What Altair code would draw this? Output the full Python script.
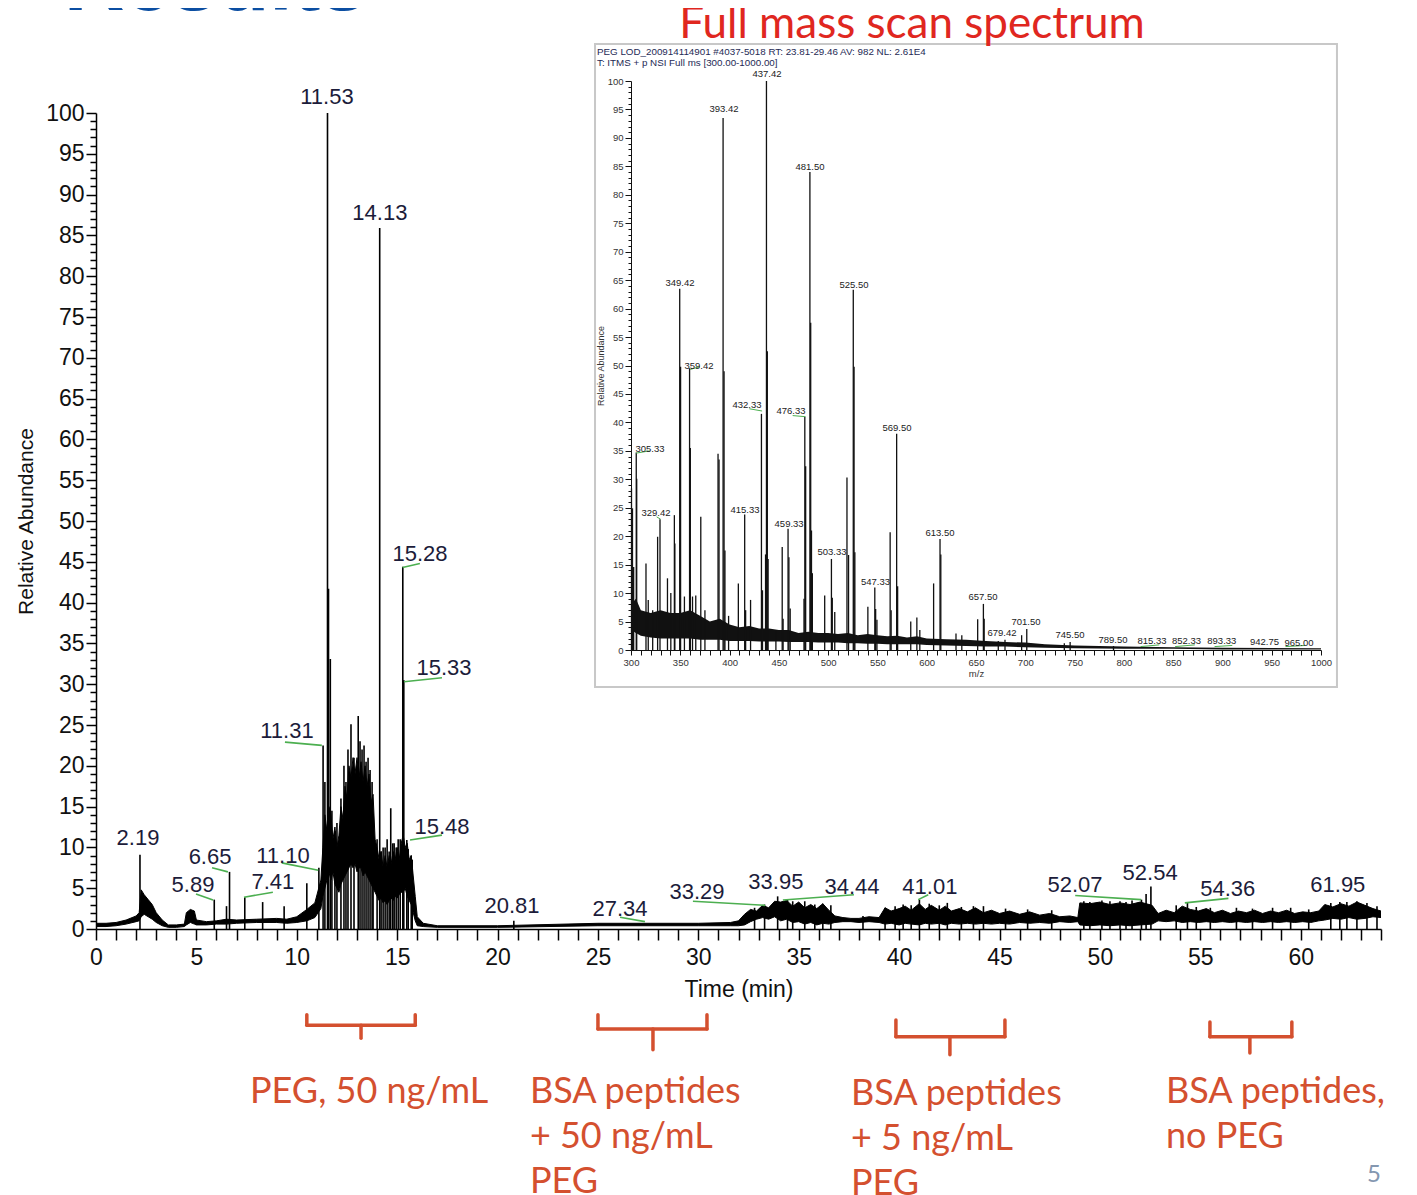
import altair as alt
import pandas as pd

# ---------------- main chromatogram: Time (min) vs Relative Abundance ----------------
# trace envelope: (time, lower edge, upper edge)
chrom_envelope = [
    (0.0, 0.3, 0.7), (0.5, 0.3, 0.7), (1.0, 0.4, 0.8), (1.5, 0.6, 1.1), (2.0, 0.9, 1.6),
    (2.15, 1.0, 2.0), (2.25, 1.5, 4.8), (2.4, 1.8, 4.2), (2.6, 1.5, 3.6), (2.8, 1.2, 3.0),
    (3.0, 0.8, 2.0), (3.3, 0.4, 1.1), (3.6, 0.2, 0.5), (4.0, 0.2, 0.5), (4.4, 0.3, 0.6),
    (4.5, 0.5, 2.0), (4.7, 0.8, 2.4), (4.9, 0.6, 2.2), (5.0, 0.5, 1.1), (5.5, 0.5, 0.9),
    (6.0, 0.6, 1.0), (6.5, 0.6, 1.2), (7.0, 0.7, 1.1), (8.0, 0.8, 1.2), (9.0, 0.8, 1.3),
    (9.5, 0.7, 1.2), (10.0, 0.8, 1.5), (10.5, 1.0, 2.4), (10.9, 1.4, 3.2),
    (11.2, 2.5, 6.0), (11.3, 4.0, 10.0), (11.4, 5.0, 14.0), (11.5, 6.0, 12.0), (11.6, 7.0, 15.0),
    (11.7, 6.0, 14.0), (11.8, 7.0, 11.0), (11.9, 5.5, 12.5), (12.0, 5.0, 10.0), (12.1, 4.5, 11.5),
    (12.2, 5.5, 15.0), (12.3, 6.0, 13.5), (12.4, 6.5, 17.5), (12.5, 7.0, 16.0), (12.6, 7.5, 20.0),
    (12.7, 8.0, 18.5), (12.8, 7.5, 21.0), (12.9, 8.0, 19.0), (13.0, 7.0, 21.0), (13.1, 7.5, 18.5),
    (13.2, 7.5, 20.5), (13.3, 6.5, 18.0), (13.4, 7.0, 20.0), (13.5, 6.5, 17.5), (13.6, 6.0, 19.0),
    (13.7, 5.5, 15.5), (13.8, 5.0, 16.5), (13.9, 4.5, 11.0), (14.0, 4.0, 10.0), (14.1, 3.5, 8.5),
    (14.2, 3.8, 9.5), (14.3, 3.2, 7.5), (14.4, 3.5, 9.0), (14.5, 3.0, 7.5), (14.6, 3.5, 9.0),
    (14.7, 3.8, 8.0), (14.8, 3.5, 9.5), (14.9, 4.0, 8.5), (15.0, 3.8, 10.0), (15.1, 4.2, 8.5),
    (15.2, 4.5, 10.5), (15.3, 4.5, 11.5), (15.4, 5.0, 10.0), (15.5, 4.0, 10.5), (15.6, 3.5, 8.5),
    (15.7, 3.0, 9.0), (15.8, 2.0, 6.5), (15.9, 1.0, 4.0), (16.0, 0.4, 1.5),
    (16.3, 0.3, 0.7), (17.0, 0.2, 0.4), (20.0, 0.2, 0.4), (25.0, 0.4, 0.7), (30.0, 0.4, 0.7),
    (31.6, 0.4, 0.8),
    (32.0, 0.4, 1.0), (32.3, 0.5, 1.8), (32.6, 0.9, 2.4), (32.9, 1.2, 2.2), (33.2, 1.4, 2.9),
    (33.5, 1.2, 2.6), (33.8, 1.5, 3.4), (34.1, 1.0, 3.3), (34.4, 1.2, 3.5), (34.7, 0.8, 2.8),
    (35.0, 0.9, 3.3), (35.3, 0.6, 2.6), (35.6, 0.8, 3.0), (35.9, 0.5, 2.5), (36.2, 0.7, 3.1),
    (36.5, 0.6, 2.3), (36.8, 0.8, 1.6), (37.2, 0.9, 1.4), (37.6, 0.9, 1.3), (38.0, 0.8, 1.3),
    (38.5, 0.9, 1.5), (39.0, 0.8, 1.4), (39.3, 0.6, 2.6), (39.6, 0.7, 2.2), (40.0, 0.5, 2.5),
    (40.3, 0.7, 2.8), (40.6, 0.6, 2.3), (41.0, 0.5, 3.1), (41.3, 0.7, 2.4), (41.6, 0.6, 2.9),
    (42.0, 0.7, 2.3), (42.3, 0.5, 2.8), (42.6, 0.7, 2.2), (43.0, 0.6, 2.5), (43.4, 0.7, 2.1),
    (43.8, 0.6, 2.6), (44.2, 0.7, 2.0), (44.6, 0.6, 2.3), (45.0, 0.7, 1.9), (45.5, 0.6, 2.2),
    (46.0, 0.8, 1.8), (46.5, 0.7, 2.1), (47.0, 0.8, 1.7), (47.5, 0.7, 1.9), (48.0, 0.9, 1.5),
    (48.5, 0.8, 1.6), (48.9, 0.9, 1.4), (49.0, 0.5, 3.2), (49.5, 0.4, 3.1), (50.0, 0.5, 3.3),
    (50.5, 0.4, 3.0), (51.0, 0.5, 3.2), (51.5, 0.4, 3.0), (52.0, 0.5, 3.3), (52.6, 0.6, 2.9),
    (52.9, 1.0, 1.9), (53.3, 0.9, 2.3), (53.7, 1.0, 2.0), (54.1, 0.8, 2.8), (54.5, 0.9, 2.4),
    (54.9, 0.8, 2.2), (55.3, 0.9, 2.5), (55.7, 0.8, 2.0), (56.1, 0.9, 2.3), (56.5, 0.8, 1.9),
    (56.9, 0.9, 2.2), (57.3, 0.8, 2.0), (57.7, 0.9, 2.3), (58.1, 0.8, 1.9), (58.5, 0.9, 2.2),
    (58.9, 0.8, 2.0), (59.3, 0.9, 2.3), (59.7, 0.8, 1.9), (60.1, 0.9, 2.1), (60.5, 0.8, 2.0),
    (60.9, 1.0, 2.2), (61.2, 1.1, 3.0), (61.6, 1.3, 2.7), (62.0, 1.2, 3.1), (62.4, 1.4, 2.8),
    (62.8, 1.2, 3.3), (63.2, 1.3, 2.9), (63.6, 1.5, 2.5), (64.0, 1.4, 2.2),
]

spike_t = [2.19, 5.89, 6.5, 6.65, 7.41, 8.3, 9.37, 10.5, 11.10, 11.31,
           11.4, 11.53, 11.58, 11.67, 11.75, 11.9, 12.0, 12.2, 12.35, 12.45,
           12.55, 12.7, 12.85, 13.06, 13.15, 13.25, 13.35, 13.45, 13.55, 13.65,
           13.75, 13.8, 14.0, 14.13, 14.2, 14.3, 14.4, 14.5, 14.6, 14.68,
           14.78, 14.85, 14.95, 15.05, 15.15, 15.28, 15.33, 15.48, 15.55, 15.7,
           15.75, 20.81, 32.8, 33.3, 33.95, 34.44, 34.7, 35.3, 35.8, 36.2,
           36.6, 38.2, 39.3, 39.8, 40.2, 40.6, 41.01, 41.5, 42.0, 42.4,
           43.1, 43.7, 44.2, 45.3, 46.4, 47.6, 49.2, 49.5, 50.1, 50.5,
           51.0, 51.3, 51.6, 52.07, 52.3, 52.54, 53.8, 54.36, 54.8, 55.5,
           56.8, 57.6, 58.6, 59.5, 60.4, 61.5, 61.95, 62.3, 62.8, 63.3,
           63.8]
spike_h = [9.1, 3.6, 2.8, 7.0, 3.9, 3.3, 2.8, 5.6, 7.5, 22.5,
           18.0, 100.0, 41.7, 33.1, 14.5, 12.0, 13.0, 16.0, 20.0, 18.0,
           22.0, 25.1, 21.0, 26.1, 23.0, 22.0, 22.5, 20.5, 21.0, 19.5,
           18.0, 13.0, 11.0, 85.9, 9.5, 10.0, 10.0, 11.0, 9.5, 14.8,
           10.5, 10.5, 10.0, 11.0, 11.0, 44.4, 30.5, 10.9, 9.8, 9.0,
           8.5, 1.0, 2.6, 3.0, 4.0, 3.6, 3.4, 3.4, 3.0, 3.1,
           2.9, 1.6, 2.6, 2.8, 3.0, 2.9, 3.6, 3.1, 2.9, 3.2,
           2.7, 2.8, 2.8, 2.5, 2.4, 2.3, 3.4, 3.3, 3.5, 3.4,
           3.4, 3.3, 3.5, 3.6, 4.3, 5.2, 2.9, 3.2, 2.7, 2.6,
           2.6, 2.5, 2.6, 2.6, 2.4, 3.2, 3.3, 3.3, 3.4, 3.2,
           2.8]

peak_labels = ["2.19", "5.89", "6.65", "7.41", "11.10", "11.31", "11.53", "14.13",
               "15.28", "15.33", "15.48", "20.81", "27.34", "33.29", "33.95", "34.44",
               "41.01", "52.07", "52.54", "54.36", "61.95"]
label_t = [2.09, 4.83, 5.68, 8.81, 9.31, 9.51, 11.50, 14.14,
           16.14, 17.33, 17.23, 20.72, 26.10, 29.93, 33.86, 37.65,
           41.53, 48.76, 52.50, 56.37, 61.85]
label_v = [11.15, 5.4, 8.8, 5.8, 8.9, 24.3, 102.0, 87.7,
           46.0, 32.0, 12.5, 2.8, 2.45, 4.5, 5.76, 5.1,
           5.1, 5.4, 6.9, 4.9, 5.4]

lead_t1 = [5.83, 6.57, 7.37, 11.07, 11.25, 15.27, 15.34, 15.64, 27.34, 33.32, 34.21, 40.95, 52.05, 54.23]
lead_v1 = [3.55, 7.0, 3.9, 7.2, 22.5, 44.3, 30.3, 10.9, 0.9, 2.9, 3.55, 3.6, 3.6, 3.2]
lead_t2 = [4.98, 5.78, 8.81, 9.25, 9.41, 16.13, 17.23, 17.23, 26.10, 29.73, 37.75, 41.45, 48.77, 56.40]
lead_v2 = [4.3, 7.5, 4.5, 8.1, 22.9, 44.8, 30.8, 11.5, 1.45, 3.4, 4.2, 4.2, 4.1, 3.75]

# sample-region braces (time range, in abundance units below the axis)
brace_l = [10.5, 25.0, 39.84, 55.48]
brace_r = [15.9, 30.43, 45.27, 59.56]
brace_c = [13.2, 27.74, 42.53, 57.47]
brace_top = [-10.5, -10.5, -11.15, -11.4]
brace_mid = [-11.8, -12.25, -13.2, -13.2]
brace_tip = [-13.4, -14.8, -15.4, -15.2]

region_text = ["PEG, 50 ng/mL", "BSA peptides\n+ 50 ng/mL\nPEG",
               "BSA peptides\n+ 5 ng/mL\nPEG", "BSA peptides,\nno PEG"]
region_t = [7.67, 21.61, 37.6, 53.29]
region_v = [-21.3, -21.3, -21.6, -21.3]

# ---------------- inset: full mass scan spectrum ----------------
noise_mz = [300, 305, 310, 320, 330, 340, 350, 360, 370, 380,
            390, 400, 410, 420, 430, 440, 450, 460, 470, 480,
            490, 500, 510, 520, 530, 540, 550, 560, 570, 580,
            590, 600, 620, 640, 660, 680, 700, 720, 750, 800,
            850, 900, 1000]
noise_lo = [3.5, 3.0, 2.5, 2.2, 2.0, 2.0, 2.0, 2.0, 1.8, 1.8,
            1.8, 1.6, 1.6, 1.6, 1.5, 1.5, 1.5, 1.4, 1.4, 1.4,
            1.3, 1.3, 1.3, 1.2, 1.2, 1.1, 1.1, 1.0, 1.0, 1.0,
            1.0, 0.9, 0.8, 0.7, 0.6, 0.6, 0.5, 0.4, 0.3, 0.2,
            0.2, 0.1, 0.1]
noise_hi = [8.0, 9.0, 7.0, 6.5, 7.0, 6.5, 6.5, 7.0, 6.0, 5.0,
            5.5, 4.5, 4.0, 4.2, 3.8, 3.8, 3.5, 3.5, 3.0, 3.2,
            3.0, 3.0, 2.8, 3.0, 2.6, 2.8, 2.6, 2.4, 2.5, 2.2,
            2.4, 2.0, 1.9, 1.8, 1.6, 1.4, 1.3, 1.0, 0.8, 0.6,
            0.5, 0.4, 0.3]

stick_mz = [300.5, 301.5, 302.7, 305.33, 305.8, 315.2, 317.5, 322.0, 327.0, 329.42,
            337.0, 340.4, 344.0, 344.5, 349.42, 350.3, 354.2, 359.42, 360.2, 362.4,
            365.7, 370.8, 375.0, 388.3, 389.3, 393.42, 394.4, 395.3, 399.0, 408.9,
            415.33, 416.3, 421.3, 432.33, 433.4, 436.5, 437.42, 438.3, 439.1, 447.0,
            453.4, 454.3, 459.33, 460.2, 461.5, 475.5, 476.33, 477.2, 481.50, 482.3,
            483.1, 484.0, 496.5, 503.33, 504.2, 506.7, 519.1, 520.7, 525.50, 526.3,
            527.1, 540.3, 547.33, 548.2, 549.5, 562.9, 563.9, 569.50, 570.5, 583.8,
            590.0, 593.0, 607.0, 613.50, 614.3, 629.7, 635.6, 651.7, 657.50, 658.3,
            672.6, 679.42, 696.3, 701.50, 739.6, 745.50, 789.50]
stick_h = [28.4, 24.9, 14.6, 34.7, 30.1, 15.2, 8.8, 7.0, 19.9, 23.0,
           12.6, 10.0, 23.7, 18.7, 63.5, 49.8, 9.4, 49.5, 35.5, 9.4,
           9.6, 23.4, 7.0, 34.5, 33.5, 93.5, 49.0, 17.5, 6.0, 11.7,
           23.8, 7.0, 8.8, 41.5, 10.5, 16.8, 100.0, 52.5, 16.0, 3.5,
           18.1, 5.5, 21.3, 16.3, 7.3, 9.0, 41.0, 32.3, 84.0, 57.5,
           21.0, 13.5, 9.6, 16.0, 9.2, 6.7, 30.3, 16.7, 63.3, 49.8,
           17.2, 7.6, 11.0, 7.2, 5.3, 20.7, 7.0, 38.0, 11.2, 5.0,
           5.7, 3.5, 11.7, 19.5, 16.8, 2.9, 2.6, 5.4, 8.1, 5.5,
           1.6, 1.8, 2.6, 3.7, 1.2, 1.4, 0.7]

ins_labels = ["437.42", "393.42", "481.50", "349.42", "525.50", "359.42", "432.33",
              "476.33", "305.33", "569.50", "329.42", "415.33", "459.33", "613.50",
              "503.33", "547.33", "657.50", "679.42", "701.50", "745.50", "789.50",
              "815.33", "852.33", "893.33", "942.75", "965.00"]
ins_lab_mz = [438.0, 394.3, 481.6, 349.7, 526.2, 369.0, 417.7,
              462.3, 319.3, 569.9, 325.4, 415.6, 460.4, 613.5,
              503.9, 548.0, 657.1, 676.4, 700.7, 745.4, 789.0,
              828.6, 863.5, 899.4, 942.7, 977.7]
ins_lab_ab = [101.2, 95.0, 84.9, 64.5, 64.1, 50.0, 43.1,
              42.0, 35.3, 39.0, 24.1, 24.6, 22.1, 20.6,
              17.2, 12.0, 9.3, 2.9, 4.9, 2.55, 1.8,
              1.58, 1.58, 1.5, 1.45, 1.28]

ins_lead_mz1 = [305.3, 326.0, 360.0, 420.0, 464.0, 817.0, 852.0, 892.0, 964.0]
ins_lead_ab1 = [34.6, 23.4, 49.3, 42.4, 41.2, 0.6, 0.6, 0.6, 0.6]
ins_lead_mz2 = [319.0, 330.0, 370.0, 433.0, 477.0, 836.0, 872.0, 910.0, 984.0]
ins_lead_ab2 = [35.0, 23.0, 49.8, 42.0, 41.0, 0.9, 0.9, 0.8, 0.8]

header_lines = ["PEG LOD_200914114901 #4037-5018   RT: 23.81-29.46   AV: 982   NL: 2.61E4",
                "T: ITMS + p NSI Full ms [300.00-1000.00]"]
header_mz = [265.5, 265.5]
header_ab = [105.1, 103.2]

frame_mz = [263.5, 1016.2]
frame_ab = [-6.5, 106.5]

# ---------------- scales & axes ----------------
xs = alt.Scale(domain=[0, 64], nice=False, zero=False)
ys = alt.Scale(domain=[0, 100], nice=False, zero=False)
mzs = alt.Scale(domain=[300, 1000], range=[535, 1225], nice=False, zero=False)
abs_ = alt.Scale(domain=[0, 100], range=[537, -32], nice=False, zero=False)

FONT = "Liberation Sans"
RED = "#d4502f"

x_axis = alt.Axis(values=list(range(0, 65)), format="d",
                  labelExpr="datum.value % 5 === 0 ? datum.label : ''",
                  tickSize=11, tickWidth=1.5, tickColor="black",
                  domainColor="black", domainWidth=1.5, grid=False,
                  labelFont=FONT, labelFontSize=23, labelColor="#111", labelPadding=6,
                  labelOverlap=False, labelFlush=False,
                  title="Time (min)", titleFont=FONT, titleFontSize=23,
                  titleFontWeight="normal", titleColor="#111", titlePadding=9)
y_axis = alt.Axis(values=list(range(0, 101)), format="d",
                  labelExpr="datum.value % 5 === 0 ? datum.label : ''",
                  tickSize={"condition": {"test": "datum.value % 5 === 0", "value": 10}, "value": 6},
                  tickWidth=1.5, tickColor="black",
                  domainColor="black", domainWidth=1.5, grid=False,
                  labelFont=FONT, labelFontSize=23, labelColor="#111", labelPadding=2,
                  labelOverlap=False, labelFlush=False,
                  title="Relative Abundance", titleFont=FONT, titleFontSize=21,
                  titleFontWeight="normal", titleColor="#111", titlePadding=9)
mz_axis = alt.Axis(orient="bottom", offset=-279, values=list(range(300, 1001, 10)), format="d",
                   labelExpr="datum.value % 50 === 0 ? datum.label : ''",
                   tickSize=5, tickColor="#111", domainColor="#111", grid=False,
                   labelFont=FONT, labelFontSize=9.5, labelColor="#333", labelPadding=2,
                   labelOverlap=False, labelFlush=False,
                   title="m/z", titleFont=FONT, titleFontSize=9.5, titleFontWeight="normal",
                   titleColor="#333", titlePadding=2, zindex=1)
ab_axis = alt.Axis(orient="left", offset=-535, values=list(range(0, 101)), format="d",
                   labelExpr="datum.value % 5 === 0 ? datum.label : ''",
                   tickSize={"condition": {"test": "datum.value % 5 === 0", "value": 6}, "value": 3},
                   tickColor="#111", domainColor="#111", grid=False,
                   labelFont=FONT, labelFontSize=9.5, labelColor="#333", labelPadding=2,
                   labelOverlap=False, labelFlush=False,
                   title="Relative Abundance", titleFont=FONT, titleFontSize=9, titleFontWeight="normal",
                   titleColor="#333", titlePadding=2, zindex=1)

# ---------------- main layers ----------------
env_df = pd.DataFrame(chrom_envelope, columns=["t", "lo", "hi"])
spike_df = pd.DataFrame({"t": spike_t, "h": spike_h})
spike_df["base"] = 0.0
lab_df = pd.DataFrame({"t": label_t, "v": label_v, "lab": peak_labels})
lead_df = pd.DataFrame({"t1": lead_t1, "v1": lead_v1, "t2": lead_t2, "v2": lead_v2})

seg = []
for l, r, c, tp, md, tip in zip(brace_l, brace_r, brace_c, brace_top, brace_mid, brace_tip):
    seg += [(l, tp, l, md), (l, md, r, md), (r, tp, r, md), (c, md, c, tip)]
brace_df = pd.DataFrame(seg, columns=["t1", "v1", "t2", "v2"])
region_df = pd.DataFrame({"t": region_t, "v": region_v, "txt": region_text})
page_df = pd.DataFrame({"t": [63.65], "v": [-30.1], "txt": ["5"]})
results_df = pd.DataFrame({"t": [-1.6], "v": [112.6], "txt": ["Results"]})

X = lambda f, **k: alt.X(f, scale=xs, **k)
Y = lambda f, **k: alt.Y(f, scale=ys, **k)

band = alt.Chart(env_df).mark_area(color="black", opacity=1).encode(
    x=X("t:Q", axis=x_axis), y=Y("lo:Q", axis=y_axis), y2="hi:Q")
hi_line = alt.Chart(env_df).mark_line(color="black", strokeWidth=1.0).encode(
    x=X("t:Q", axis=None), y=Y("hi:Q", axis=None))
lo_line = alt.Chart(env_df).mark_line(color="black", strokeWidth=1.0).encode(
    x=X("t:Q", axis=None), y=Y("lo:Q", axis=None))
spikes = alt.Chart(spike_df).mark_rule(color="black", strokeWidth=1.6).encode(
    x=X("t:Q", axis=None), y=Y("base:Q", axis=None), y2="h:Q")
leaders = alt.Chart(lead_df).mark_rule(color="#4caf50", strokeWidth=1.6).encode(
    x=X("t1:Q", axis=None), y=Y("v1:Q", axis=None), x2="t2:Q", y2="v2:Q")
labels = alt.Chart(lab_df).mark_text(font=FONT, fontSize=22, color="#1c1c3a",
                                     align="center", baseline="middle").encode(
    x=X("t:Q", axis=None), y=Y("v:Q", axis=None), text="lab:N")
braces = alt.Chart(brace_df).mark_rule(color=RED, strokeWidth=3.5, strokeCap="round").encode(
    x=X("t1:Q", axis=None), y=Y("v1:Q", axis=None), x2="t2:Q", y2="v2:Q")
regions = alt.Chart(region_df).mark_text(font="Lato", fontSize=36, color=RED, align="left",
                                         baseline="alphabetic", lineBreak="\n", lineHeight=45).encode(
    x=X("t:Q", axis=None), y=Y("v:Q", axis=None), text="txt:N")
page = alt.Chart(page_df).mark_text(font="Lato", fontSize=24, color="#8497b0",
                                    align="center", baseline="middle").encode(
    x=X("t:Q", axis=None), y=Y("v:Q", axis=None), text="txt:N")
results = alt.Chart(results_df).mark_text(font=FONT, fontSize=84, fontWeight="bold", color="#0b4ea2",
                                          align="left", baseline="alphabetic").encode(
    x=X("t:Q", axis=None), y=Y("v:Q", axis=None), text="txt:N")

# ---------------- inset layers ----------------
frame_df = pd.DataFrame({"x0": [frame_mz[0]], "x1": [frame_mz[1]], "y0": [frame_ab[0]], "y1": [frame_ab[1]]})
noise_df = pd.DataFrame({"mz": noise_mz, "lo": noise_lo, "hi": noise_hi})
stick_df = pd.DataFrame({"mz": stick_mz, "h": stick_h})
stick_df["base"] = 0.0
ilab_df = pd.DataFrame({"mz": ins_lab_mz, "ab": ins_lab_ab, "lab": ins_labels})
ilead_df = pd.DataFrame({"m1": ins_lead_mz1, "a1": ins_lead_ab1, "m2": ins_lead_mz2, "a2": ins_lead_ab2})
head_df = pd.DataFrame({"mz": header_mz, "ab": header_ab, "txt": header_lines})
ititle_df = pd.DataFrame({"mz": [585.1], "ab": [109.8], "txt": ["Full mass scan spectrum"]})

MX = lambda f, **k: alt.X(f, scale=mzs, **k)
MY = lambda f, **k: alt.Y(f, scale=abs_, **k)

frame = alt.Chart(frame_df).mark_rect(fill="white", stroke="#c8c8c8", strokeWidth=2).encode(
    x=MX("x0:Q", axis=None), x2="x1:Q", y=MY("y0:Q", axis=None), y2="y1:Q")
inoise = alt.Chart(noise_df).mark_area(color="#111", opacity=1).encode(
    x=MX("mz:Q", axis=None), y=MY("lo:Q", axis=None), y2="hi:Q")
sticks = alt.Chart(stick_df).mark_rule(color="#111", strokeWidth=1.3).encode(
    x=MX("mz:Q", axis=mz_axis), y=MY("base:Q", axis=ab_axis), y2="h:Q")
ileads = alt.Chart(ilead_df).mark_rule(color="#4caf50", strokeWidth=1).encode(
    x=MX("m1:Q", axis=None), y=MY("a1:Q", axis=None), x2="m2:Q", y2="a2:Q")
ilabels = alt.Chart(ilab_df).mark_text(font=FONT, fontSize=9.5, color="#222",
                                       align="center", baseline="middle").encode(
    x=MX("mz:Q", axis=None), y=MY("ab:Q", axis=None), text="lab:N")
header = alt.Chart(head_df).mark_text(font=FONT, fontSize=9.8, color="#1e2a55",
                                      align="left", baseline="middle").encode(
    x=MX("mz:Q", axis=None), y=MY("ab:Q", axis=None), text="txt:N")
ititle = alt.Chart(ititle_df).mark_text(font="Lato", fontSize=44, color="#e0271f",
                                        align="center", baseline="middle").encode(
    x=MX("mz:Q", axis=None), y=MY("ab:Q", axis=None), text="txt:N")

chart = alt.layer(
    band, hi_line, lo_line, spikes, leaders, labels, braces, regions, page, results,
    frame, inoise, sticks, ileads, ilabels, header, ititle,
).resolve_scale(x="independent", y="independent").properties(
    width=1285, height=816,
    autosize=alt.AutoSizeParams(type="none"),
    padding={"left": 88, "top": 105, "right": 28, "bottom": 266},
    background="white",
).configure_view(stroke=None)

chart.save("out.html", embed_options={"renderer": "svg", "actions": False})
